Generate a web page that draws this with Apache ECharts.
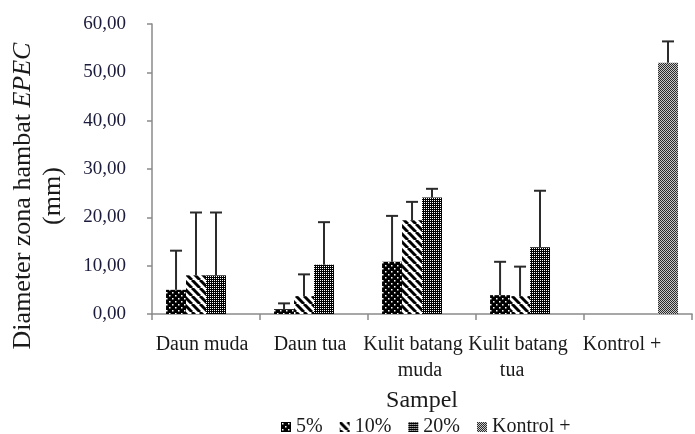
<!DOCTYPE html>
<html><head><meta charset="utf-8">
<script src="https://cdn.jsdelivr.net/npm/echarts@6/dist/echarts.min.js"></script>
<style>html,body{margin:0;padding:0;background:#fff}#c{width:695px;height:434px}</style>
</head><body><div id="c"></div>
<script>
var categories = ['Daun muda', 'Daun tua', 'Kulit batang\nmuda', 'Kulit batang\ntua', 'Kontrol +'];
var seriesNames = ['5%', '10%', '20%', 'Kontrol +'];
var v5  = [5.0, 1.0, 10.8, 3.9, null];
var v10 = [8.0, 3.7, 19.4, 3.7, null];
var v20 = [8.0, 10.2, 24.1, 13.8, null];
var vK  = [null, null, null, null, 52.0];
var e5  = [8.1, 1.2, 9.5, 6.9, null];
var e10 = [13.0, 4.5, 3.8, 6.1, null];
var e20 = [13.0, 8.8, 1.8, 11.7, null];
var eK  = [null, null, null, null, 4.4];
var yTicks = [0, 10, 20, 30, 40, 50, 60];

// horizontal nudges of the category label lines (px to the left), layout only
var labelShift = [[4], [4], [9, 2], [12, 18], [16]];

function tile(size, draw){var c=document.createElement('canvas');c.width=size;c.height=size;var g=c.getContext('2d');draw(g,size);return c;}
var p5 = tile(6,function(g,s){g.fillStyle='#000';g.fillRect(0,0,s,s);g.fillStyle='#fff';g.fillRect(1,1,1.5,1.5);g.fillRect(4,4,1.5,1.5);});
var p10 = tile(8,function(g,s){g.fillStyle='#fff';g.fillRect(0,0,s,s);g.strokeStyle='#000';g.lineWidth=3;
  for(var k=-1;k<=1;k++){g.beginPath();g.moveTo(k*s,0);g.lineTo(k*s+s,s);g.stroke();}});
var p20 = tile(4,function(g,s){g.fillStyle='#000';g.fillRect(0,0,s,s);g.fillStyle='#fff';g.fillRect(0,0,1,1);g.fillRect(2,2,1,1);g.fillRect(2,0,1,1);g.fillRect(0,2,1,1);});
var pK = tile(2,function(g,s){g.fillStyle='#c8c8c8';g.fillRect(0,0,s,s);g.fillStyle='#2a2a2a';g.fillRect(0,0,1,1);g.fillRect(1,1,1,1);});
var pats = [p5,p10,p20,pK];
var vals = [v5,v10,v20,vK];
var errs = [e5,e10,e20,eK];
var BW = 0.185;

var series = [];
for (var i=0;i<4;i++){
  series.push({name:seriesNames[i], type:'bar', data:vals[i].map(function(v){return v==null?'-':v;}),
    barWidth: (BW*100)+'%', barGap:'0%', barCategoryGap:'26%',
    itemStyle:{color:{image:pats[i],repeat:'repeat'}}, emphasis:{disabled:true}, z:2});
}
var errData = [];
for (var i=0;i<4;i++) for (var j=0;j<5;j++) if (vals[i][j]!=null) errData.push([j, vals[i][j], vals[i][j]+errs[i][j], i]);
series.push({type:'custom', data:errData, z:5, silent:true,
  renderItem:function(params, api){
    var c = api.value(0), lo=api.value(1), hi=api.value(2), s=api.value(3);
    var cw = api.size([1,0])[0]; var bw = cw*BW;
    var p0 = api.coord([c, lo]); var p1 = api.coord([c, hi]);
    var x = p0[0] + (s-1.5)*bw;
    var st = {stroke:'#2b2b2b', lineWidth:2};
    return {type:'group', children:[
      {type:'line', shape:{x1:x,y1:p0[1],x2:x,y2:p1[1]}, style:st},
      {type:'line', shape:{x1:x-6,y1:p1[1],x2:x+6,y2:p1[1]}, style:st}
    ]};
  }});

var rich = {};
labelShift.forEach(function(arr, i){ arr.forEach(function(d, k){
  rich['l'+i+'_'+k] = {fontFamily:'Liberation Serif', fontSize:20, color:'#1a1a1a', lineHeight:26, padding:[0, 2*d, 0, 0]};
});});

var chart = echarts.init(document.getElementById('c'), null, {renderer:'canvas'});
chart.setOption({
  animation:false,
  textStyle:{fontFamily:'Liberation Serif'},
  grid:{left:152, top:24, right:-10, bottom:120, containLabel:false},
  xAxis:{type:'category', data:categories,
    name:'Sampel', nameLocation:'middle', nameGap:63,
    nameTextStyle:{fontFamily:'Liberation Serif', fontSize:24, color:'#1a1a1a'},
    axisLine:{lineStyle:{color:'#8a8a8a', width:1.5}},
    axisTick:{show:true, length:6, lineStyle:{color:'#8a8a8a', width:1.5}},
    axisLabel:{interval:0, margin:18, fontFamily:'Liberation Serif', fontSize:20, color:'#1a1a1a', lineHeight:26,
      formatter:function(v, idx){ return v.split('\n').map(function(line, k){ return '{l'+idx+'_'+k+'|'+line+'}'; }).join('\n'); },
      rich:rich},
    splitLine:{show:false}},
  yAxis:{type:'value', min:yTicks[0], max:yTicks[yTicks.length-1], interval:10,
    axisLine:{show:true, lineStyle:{color:'#8a8a8a', width:1.5}},
    axisTick:{show:true, length:5, lineStyle:{color:'#8a8a8a', width:1.5}},
    axisLabel:{margin:26, fontFamily:'Liberation Serif', fontSize:19, color:'#1a1a3a',
      formatter:function(v){return v.toFixed(2).replace('.',',');}},
    splitLine:{show:false}},
  legend:{data:seriesNames, left:276, top:412, icon:'rect', itemWidth:10, itemHeight:10, itemGap:17,
    textStyle:{fontFamily:'Liberation Serif', fontSize:20, color:'#1a1a1a'}},
  graphic:[{type:'text', x:38, y:196, rotation:Math.PI/2,
    style:{text:'{a|Diameter zona hambat }{b|EPEC}\n{a|(mm)}', align:'center', verticalAlign:'middle',
      rich:{a:{fontFamily:'Liberation Serif', fontSize:26, lineHeight:30, fill:'#1a1a1a'},
            b:{fontFamily:'Liberation Serif', fontSize:26, lineHeight:30, fontStyle:'italic', fill:'#1a1a1a'}}}}],
  series:series
});
</script></body></html>
